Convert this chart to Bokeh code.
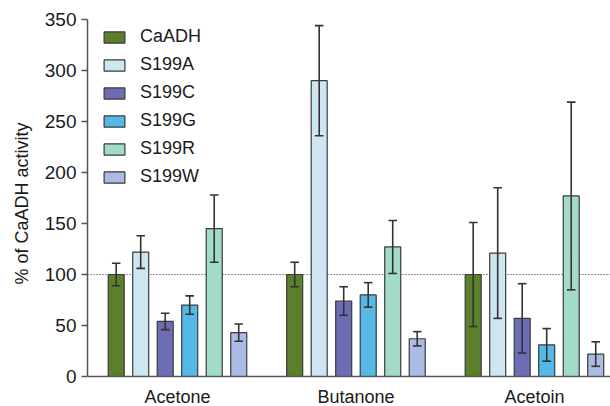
from bokeh.plotting import figure
from bokeh.models import Span, FixedTicker, Legend, LegendItem, ColumnDataSource
from bokeh.core.properties import value
from bokeh.embed import file_html
from bokeh.resources import INLINE

substrates = ["Acetone", "Butanone", "Acetoin"]
variants = ["CaADH", "S199A", "S199C", "S199G", "S199R", "S199W"]
colors = ["#5b7f2b", "#cde6f0", "#6e6cb5", "#55b8e6", "#a3dcc6", "#abbbe4"]

means = {
    "CaADH": [100, 100, 100],
    "S199A": [122, 290, 121],
    "S199C": [54, 74, 57],
    "S199G": [70, 80, 31],
    "S199R": [145, 127, 177],
    "S199W": [43, 37, 22],
}
errors = {
    "CaADH": [11, 12, 51],
    "S199A": [16, 54, 64],
    "S199C": [8, 14, 34],
    "S199G": [9, 12, 16],
    "S199R": [33, 26, 92],
    "S199W": [8.5, 7, 12],
}
y_ticks = [0, 50, 100, 150, 200, 250, 300, 350]

FONT = "Liberation Sans"
pitch = 0.1373
bw = 0.0896
cap = 0.024

p = figure(width=610, height=406, output_backend="svg", toolbar_location=None,
           x_range=(-0.504, 2.426), y_range=(-29.4, 368.6),
           min_border_left=87, min_border_right=0, min_border_top=0, min_border_bottom=0)
p.xaxis.visible = False
p.xgrid.visible = False
p.ygrid.visible = False
p.outline_line_color = None

ax = p.yaxis[0]
ax.ticker = FixedTicker(ticks=y_ticks)
ax.bounds = (0, 350)
ax.axis_label = "% of CaADH activity"
ax.axis_label_text_font = FONT
ax.axis_label_text_font_size = "18px"
ax.axis_label_text_font_style = "normal"
ax.axis_label_text_color = "#1a1a1a"
ax.axis_label_standoff = 10
ax.major_label_text_font = FONT
ax.major_label_text_font_size = "19px"
ax.major_label_text_color = "#1a1a1a"
ax.major_label_standoff = 5
ax.major_tick_out = 6
ax.major_tick_in = 0
ax.minor_tick_line_color = None
ax.axis_line_color = "#555555"
ax.axis_line_width = 1.5
ax.major_tick_line_color = "#555555"
ax.major_tick_line_width = 1.5

p.add_layout(Span(location=100, dimension="width", line_color="#333333",
                  line_width=1.2, line_dash="1 2", level="underlay"))
p.add_layout(Span(location=0, dimension="width", line_color="#555555",
                  line_width=1.5))

items = []
for i, v in enumerate(variants):
    xs = [g + (i - 2.5) * pitch for g in range(len(substrates))]
    tops = means[v]
    lo = [m - e for m, e in zip(tops, errors[v])]
    hi = [m + e for m, e in zip(tops, errors[v])]
    src = ColumnDataSource(dict(x=xs, top=tops, lo=lo, hi=hi,
                                xl=[x - cap for x in xs], xr=[x + cap for x in xs]))
    r = p.vbar(x="x", top="top", bottom=0, width=bw, source=src,
               fill_color=colors[i], line_color="#3a3a3a", line_width=1.2)
    p.segment(x0="x", y0="lo", x1="x", y1="hi", source=src, line_color="#333333", line_width=1.6)
    p.segment(x0="xl", y0="hi", x1="xr", y1="hi", source=src, line_color="#333333", line_width=1.6)
    p.segment(x0="xl", y0="lo", x1="xr", y1="lo", source=src, line_color="#333333", line_width=1.6)
    items.append(LegendItem(label=v, renderers=[r]))

lab = ColumnDataSource(dict(x=list(range(len(substrates))), y=[-20.5] * 3, t=substrates))
p.text(x="x", y="y", text="t", source=lab, text_align="center", text_baseline="middle",
       text_font=value(FONT), text_font_size="18px", text_color="#1a1a1a")

legend = Legend(items=items, location=(14, 219), glyph_width=26, glyph_height=14,
                label_height=20, spacing=7, padding=0, margin=0, label_standoff=13,
                label_text_font=FONT, label_text_font_size="18px", label_text_color="#1a1a1a",
                border_line_alpha=0, background_fill_alpha=0)
p.add_layout(legend)

open("out.html", "w").write(file_html(p, INLINE))
